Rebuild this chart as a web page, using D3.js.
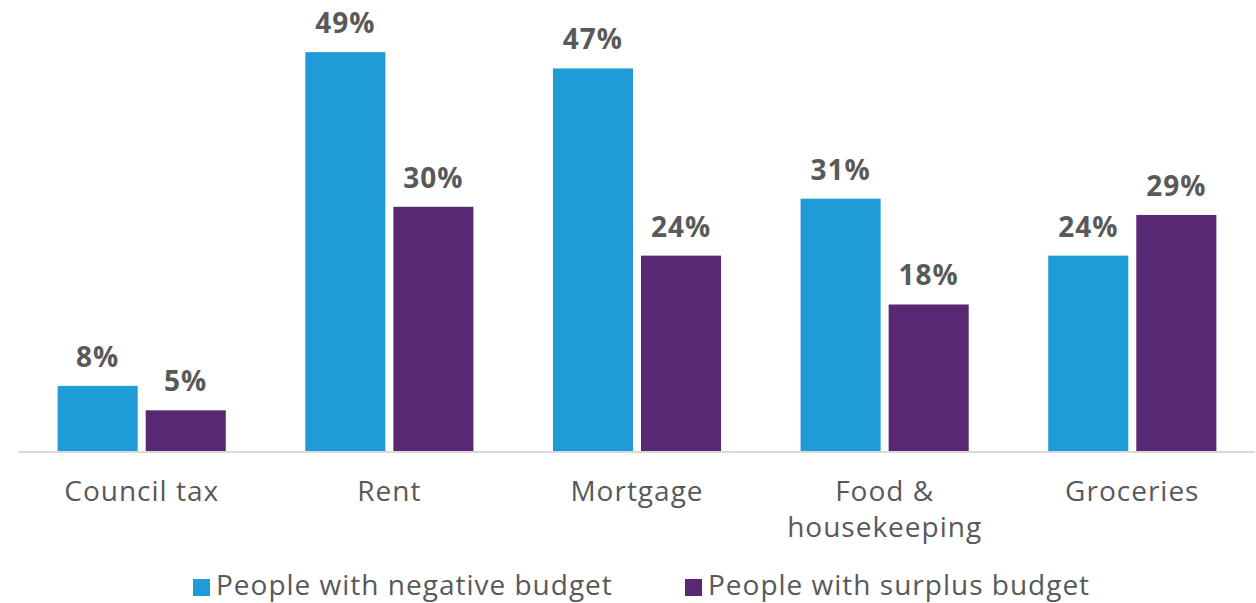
<!DOCTYPE html>
<html>
<head>
<meta charset="utf-8">
<style>
  body { margin: 0; background: #fff; }
  svg text { font-family: "Open Sans", Lato, sans-serif; letter-spacing: 1px; }
</style>
<title>Budget</title>
</head>
<body>
<script src="https://cdn.jsdelivr.net/npm/d3@7"></script>
<script>

var categories = ["Council tax", "Rent", "Mortgage", "Food &\nhousekeeping", "Groceries"];
var series = ["People with negative budget", "People with surplus budget"];
var negative = [8, 49, 47, 31, 24];
var surplus = [5, 30, 24, 18, 29];
var colors = ["#1f9bd7", "#582873"];

var width = 1256, height = 603;
var baseY = 451;

var svg = d3.select("body").append("svg")
  .attr("width", width)
  .attr("height", height);

var x0 = d3.scaleBand()
  .domain(categories)
  .range([18, 1256])
  .paddingInner(0.321)
  .paddingOuter(0.16);

var x1 = d3.scaleBand()
  .domain(series)
  .range([0, x0.bandwidth()])
  .paddingInner(0.0909);

var y = d3.scaleLinear()
  .domain([0, 50])
  .range([baseY, 44]);

var color = d3.scaleOrdinal().domain(series).range(colors);

var rows = categories.map(function(c, i) {
  return {cat: c, vals: [
    {s: series[0], v: negative[i]},
    {s: series[1], v: surplus[i]}
  ]};
});

var groups = svg.selectAll("g.grp")
  .data(rows)
  .enter().append("g")
  .attr("class", "grp")
  .attr("transform", function(d) { return "translate(" + x0(d.cat) + ",0)"; });

groups.selectAll("rect")
  .data(function(d) { return d.vals; })
  .enter().append("rect")
  .attr("x", function(d) { return x1(d.s); })
  .attr("y", function(d) { return y(d.v); })
  .attr("width", x1.bandwidth())
  .attr("height", function(d) { return baseY - y(d.v); })
  .attr("fill", function(d) { return color(d.s); });

groups.selectAll("text.val")
  .data(function(d) { return d.vals; })
  .enter().append("text")
  .attr("class", "val")
  .attr("x", function(d) { return x1(d.s) + x1.bandwidth() / 2; })
  .attr("y", function(d) { return y(d.v) - 19; })
  .attr("text-anchor", "middle")
  .attr("font-size", 28)
  .attr("font-weight", "bold")
  .attr("fill", "#595959")
  .text(function(d) { return d.v + "%"; });

// baseline
svg.append("line")
  .attr("x1", 18).attr("x2", 1255)
  .attr("y1", baseY + 1).attr("y2", baseY + 1)
  .attr("stroke", "#d9d9d9")
  .attr("stroke-width", 2);

// category labels
var xAxis = svg.append("g");
categories.forEach(function(c) {
  var t = xAxis.append("text")
    .attr("x", x0(c) + x0.bandwidth() / 2)
    .attr("y", 501)
    .attr("text-anchor", "middle")
    .attr("font-size", 28)
    .attr("fill", "#595959");
  c.split("\n").forEach(function(line, j) {
    t.append("tspan")
      .attr("x", x0(c) + x0.bandwidth() / 2)
      .attr("dy", j === 0 ? 0 : 36)
      .text(line);
  });
});

// legend
var legendX = [193, 685];
var legend = svg.selectAll("g.leg")
  .data(series)
  .enter().append("g")
  .attr("class", "leg")
  .attr("transform", function(d, i) { return "translate(" + legendX[i] + ",579)"; });

legend.append("rect")
  .attr("width", 17).attr("height", 17)
  .attr("fill", function(d) { return color(d); });

legend.append("text")
  .attr("x", 23)
  .attr("y", 16)
  .attr("font-size", 28)
  .attr("fill", "#595959")
  .text(function(d) { return d; });

</script>
</body>
</html>
